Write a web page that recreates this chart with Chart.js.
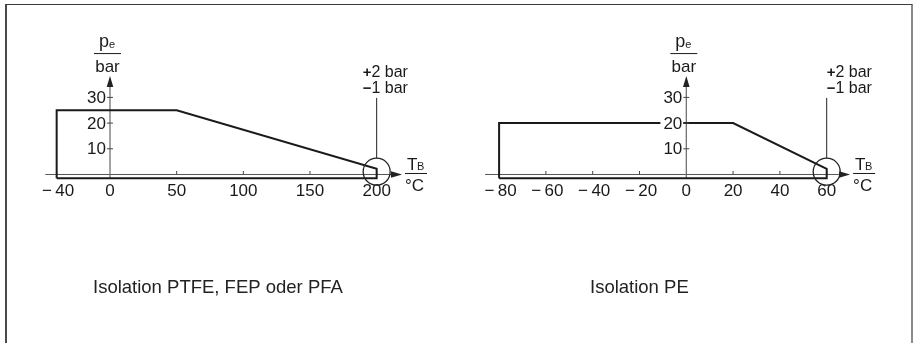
<!DOCTYPE html>
<html>
<head>
<meta charset="utf-8">
<title>Druck-Temperatur-Diagramm</title>
<script src="https://cdn.jsdelivr.net/npm/chart.js@4.4.1/dist/chart.umd.min.js"></script>
<style>
  html, body { margin: 0; padding: 0; background: #fff; overflow: hidden; }
  #frame {
    position: absolute; left: 5px; top: 4px; width: 904px; height: 360px;
    border-top: 1.5px solid #3a3a3a; border-left: 2px solid #4a4a4a; border-right: 2px solid #8a8a8a;
  }
  .panel { position: absolute; top: 0; width: 460px; height: 343px; }
</style>
</head>
<body>
<div id="frame"></div>
<div class="panel" style="left:0"><canvas id="chart-ptfe" width="460" height="343"></canvas></div>
<div class="panel" style="left:460px"><canvas id="chart-pe" width="460" height="343"></canvas></div>

<script>
// --- data ---
// Isolation PTFE, FEP oder PFA
const ptfeTemp = [-40, -40, 50, 200, 200, -40];
const ptfePressure = [-1.5, 25, 25, 2.2, -1.5, -1.5];
const ptfeTicksX = [-40, 0, 50, 100, 150, 200];
// Isolation PE
const peTemp = [-80, -80, 20, 60, 60, -80];
const pePressure = [-1.5, 20, 20, 2.2, -1.5, -1.5];
const peTicksX = [-80, -60, -40, -20, 0, 20, 40, 60];

const ticksY = [10, 20, 30];
const captions = ['Isolation PTFE, FEP oder PFA', 'Isolation PE'];
const tolerance = ['+', '2 bar', '\u2212', '1 bar'];

const FONT = '"Liberation Sans", Arial, Helvetica, sans-serif';
const INK = '#1a1a1a';

function fmt(v) {
  return v < 0 ? '\u2212\u2009' + Math.abs(v) : String(v);
}

function arrowHead(ctx, x, y, dir) {
  ctx.beginPath();
  if (dir === 'right') {
    ctx.moveTo(x, y); ctx.lineTo(x - 11, y - 3.3); ctx.lineTo(x - 11, y + 3.3);
  } else {
    ctx.moveTo(x, y); ctx.lineTo(x - 3.3, y + 11); ctx.lineTo(x + 3.3, y + 11);
  }
  ctx.closePath();
  ctx.fill();
}

const diagramPlugin = {
  id: 'diagram',
  beforeDatasetsDraw(chart, args, o) {
    const {ctx, scales: {x, y}} = chart;
    const x0 = x.getPixelForValue(0), y0 = y.getPixelForValue(0);
    ctx.save();
    ctx.strokeStyle = '#555';
    ctx.fillStyle = '#222';
    ctx.lineWidth = 1;

    // x axis with arrow
    const xa = x.getPixelForValue(o.axisFrom), xb = x.getPixelForValue(o.axisTo);
    ctx.beginPath(); ctx.moveTo(xa, y0); ctx.lineTo(xb - 8, y0); ctx.stroke();
    arrowHead(ctx, xb, y0, 'right');

    // y axis with arrow
    const yTop = y.getPixelForValue(38.3);
    ctx.lineWidth = 1.2;
    ctx.strokeStyle = '#666';
    ctx.beginPath(); ctx.moveTo(x0, y.getPixelForValue(-1.8)); ctx.lineTo(x0, yTop + 8); ctx.stroke();
    arrowHead(ctx, x0, yTop, 'up');

    // x tick marks
    ctx.lineWidth = 1;
    ctx.strokeStyle = '#444';
    o.ticksX.forEach(v => {
      if (v === 0) return;
      const px = x.getPixelForValue(v);
      ctx.beginPath(); ctx.moveTo(px, y0); ctx.lineTo(px, y0 - 3.5); ctx.stroke();
    });
    ctx.restore();
  },
  afterDatasetsDraw(chart, args, o) {
    const {ctx, scales: {x, y}} = chart;
    const x0 = x.getPixelForValue(0), y0 = y.getPixelForValue(0);
    ctx.save();
    ctx.fillStyle = INK;
    ctx.strokeStyle = '#444';
    ctx.lineWidth = 1;

    // y ticks + labels (white box breaks the outline like in the drawing)
    ctx.font = '17px ' + FONT;
    ctx.textAlign = 'right';
    ctx.textBaseline = 'middle';
    ticksY.forEach(v => {
      const py = y.getPixelForValue(v);
      const w = ctx.measureText(String(v)).width;
      ctx.fillStyle = '#fff';
      ctx.fillRect(x0 - 5 - w - 2, py - 8, w + 4, 16);
      ctx.fillStyle = INK;
      ctx.fillText(String(v), x0 - 4, py + 1);
      ctx.beginPath(); ctx.moveTo(x0 - 3, py); ctx.lineTo(x0 + 3, py); ctx.stroke();
    });

    // x tick labels
    ctx.textAlign = 'center';
    o.ticksX.forEach(v => {
      ctx.fillText(fmt(v), x.getPixelForValue(v) + (v < 0 ? 1.5 : 0), y0 + 17);
    });

    // unit fraction p_e / bar
    const yTop = y.getPixelForValue(38.3);
    const fx = x0 - 2.5;
    const fy = yTop - 22.5;
    ctx.strokeStyle = INK;
    ctx.beginPath(); ctx.moveTo(fx - 13.5, fy); ctx.lineTo(fx + 13.5, fy); ctx.stroke();
    ctx.textBaseline = 'alphabetic';
    ctx.textAlign = 'left';
    ctx.font = '18px ' + FONT;
    ctx.fillText('p', fx - 8.5, fy - 7);
    ctx.font = '11px ' + FONT;
    ctx.fillText('e', fx + 1.5, fy - 6);
    ctx.font = '17px ' + FONT;
    ctx.textAlign = 'center';
    ctx.fillText('bar', fx, fy + 18.5);

    // unit fraction T_B / °C
    const tx = x.getPixelForValue(o.axisTo) + o.unitGap;
    ctx.beginPath(); ctx.moveTo(tx, y0 - 1); ctx.lineTo(tx + 22, y0 - 1); ctx.stroke();
    ctx.textAlign = 'left';
    ctx.font = '17px ' + FONT;
    ctx.fillText('T', tx + 2, y0 - 4);
    ctx.font = '11px ' + FONT;
    ctx.fillText('B', tx + 12, y0 - 4);
    ctx.font = '17px ' + FONT;
    ctx.fillText('\u00b0C', tx, y0 + 17);

    // tolerance circle and leader
    const cx = x.getPixelForValue(o.markX), cy = y.getPixelForValue(1.1);
    ctx.lineWidth = 1.3;
    ctx.strokeStyle = '#222';
    ctx.beginPath(); ctx.arc(cx, cy, 13.5, 0, Math.PI * 2); ctx.stroke();
    ctx.lineWidth = 1;
    ctx.beginPath(); ctx.moveTo(cx, cy - 13.5); ctx.lineTo(cx, y.getPixelForValue(29.8)); ctx.stroke();

    const lx = cx + o.textShift;
    ctx.font = 'bold 15px ' + FONT;
    ctx.fillText(tolerance[0], lx, 77);
    ctx.fillText(tolerance[2], lx, 93);
    const sw = ctx.measureText(tolerance[0]).width;
    ctx.font = '16px ' + FONT;
    ctx.fillText(tolerance[1], lx + sw, 77);
    ctx.fillText(tolerance[3], lx + sw, 93);

    // caption
    ctx.font = '18.5px ' + FONT;
    ctx.fillStyle = '#222';
    ctx.fillText(o.caption, o.captionX, 293);
    ctx.restore();
  }
};

function makeChart(id, temps, pressures, xMin, xMax, padding, extra) {
  const points = temps.map((t, i) => ({x: t, y: pressures[i]}));
  return new Chart(document.getElementById(id), {
    type: 'line',
    data: {
      datasets: [{
        data: points,
        borderColor: INK,
        borderWidth: 2,
        borderJoinStyle: 'miter',
        pointRadius: 0,
        tension: 0,
        fill: false,
        clip: false
      }]
    },
    options: {
      responsive: false,
      animation: false,
      devicePixelRatio: 1,
      layout: {padding: padding},
      plugins: {
        legend: {display: false},
        tooltip: {enabled: false},
        diagram: extra
      },
      scales: {
        x: {type: 'linear', min: xMin, max: xMax, display: false},
        y: {type: 'linear', min: -3, max: 40, display: false}
      }
    },
    plugins: [diagramPlugin]
  });
}

makeChart('chart-ptfe', ptfeTemp, ptfePressure, -50, 220,
  {left: 43.33, right: 56.67, top: 71.7, bottom: 160.8},
  {ticksX: ptfeTicksX, axisFrom: -48.5, axisTo: 219, markX: 200, textShift: -14,
   unitGap: 3, caption: captions[0], captionX: 93});

makeChart('chart-pe', peTemp, pePressure, -90, 70,
  {left: 15.7, right: 69.9, top: 71.7, bottom: 160.8},
  {ticksX: peTicksX, axisFrom: -86, axisTo: 70, markX: 60, textShift: 0,
   unitGap: 3, caption: captions[1], captionX: 130});
</script>
</body>
</html>
